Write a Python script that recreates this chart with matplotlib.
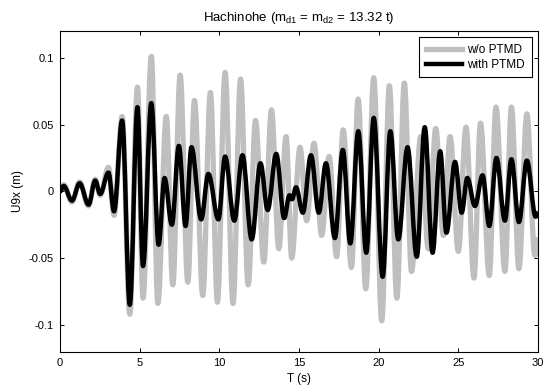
import matplotlib
matplotlib.use("Agg")
import matplotlib.pyplot as plt
from matplotlib.ticker import FuncFormatter
from matplotlib.path import Path
from matplotlib.patches import PathPatch
from matplotlib.lines import Line2D

plt.rcParams['font.family'] = ['Liberation Sans', 'DejaVu Sans']
plt.rcParams['mathtext.fontset'] = 'custom'
plt.rcParams['mathtext.rm'] = 'Liberation Sans'
plt.rcParams['mathtext.it'] = 'Liberation Sans'

# Roof displacement response, turning points of each record (time in s, displacement in m)
t_without = [0.0, 0.23, 0.75, 1.23, 1.79, 2.21, 2.52, 3.04, 3.39, 3.9, 4.38,
             4.86, 5.21, 5.73, 6.14, 6.67, 7.08, 7.54, 8.02, 8.44, 8.96,
             9.44, 9.88, 10.36, 10.86, 11.33, 11.81, 12.27, 12.79, 13.27, 13.73,
             14.19, 14.54, 15.06, 15.48, 15.94, 16.42, 16.89, 17.36, 17.77, 18.29,
             18.71, 19.19, 19.69, 20.19, 20.67, 21.14, 21.61, 22.06, 22.64, 23.11,
             23.58, 24.06, 24.48, 25.0, 25.48, 25.98, 26.39, 26.94, 27.36, 27.92,
             28.33, 28.8, 29.3, 29.8, 30.0]
u_without = [0.0, 0.005, -0.008, 0.007, -0.011, 0.009, -0.003, 0.018, -0.018, 0.056, -0.092,
             0.078, -0.080, 0.101, -0.084, 0.056, -0.070, 0.087, -0.068, 0.068, -0.078,
             0.074, -0.083, 0.089, -0.084, 0.084, -0.070, 0.053, -0.053, 0.061, -0.043,
             0.041, -0.050, 0.033, -0.022, 0.036, -0.033, 0.026, -0.049, 0.046, -0.057,
             0.069, -0.073, 0.085, -0.097, 0.079, -0.080, 0.081, -0.060, 0.041, -0.043,
             0.047, -0.033, 0.041, -0.045, 0.048, -0.065, 0.051, -0.063, 0.063, -0.060,
             0.063, -0.058, 0.058, -0.048, -0.035]

t_with = [0.0, 0.23, 0.75, 1.23, 1.79, 2.21, 2.52, 3.04, 3.39, 3.9, 4.38,
          4.86, 5.21, 5.73, 6.19, 6.56, 7.02, 7.46, 7.88, 8.25, 8.86,
          9.31, 9.94, 10.36, 10.94, 11.45, 12.03, 12.58, 13.03, 13.57, 14.07,
          14.4, 14.56, 14.81, 15.24, 15.75, 16.24, 16.69, 17.25, 17.75, 18.22,
          18.72, 19.22, 19.69, 20.25, 20.73, 21.23, 21.81, 22.39, 22.89, 23.38,
          23.86, 24.25, 24.79, 25.21, 25.56, 26.04, 26.52, 26.94, 27.39, 27.92,
          28.33, 28.8, 29.3, 29.85, 30.0]
u_with = [0.0, 0.004, -0.007, 0.006, -0.010, 0.008, -0.002, 0.014, -0.015, 0.053, -0.085,
          0.063, -0.056, 0.066, -0.040, 0.010, -0.025, 0.034, -0.026, 0.033, -0.021,
          0.013, -0.021, 0.026, -0.022, 0.027, -0.036, 0.021, -0.014, 0.028, -0.020,
          -0.003, -0.006, 0.003, -0.016, 0.027, -0.016, 0.021, -0.035, 0.031, -0.039,
          0.045, -0.046, 0.055, -0.064, 0.045, -0.036, 0.033, -0.049, 0.048, -0.046,
          0.030, -0.031, 0.022, -0.016, 0.010, -0.011, 0.012, -0.026, 0.025, -0.022,
          0.024, -0.023, 0.023, -0.019, -0.016]

x_ticks = [0, 5, 10, 15, 20, 25, 30]
y_ticks = [-0.1, -0.05, 0, 0.05, 0.1]
series_labels = ['w/o PTMD', 'with PTMD']
GREY = '#bfbfbf'


def smooth_path(t, u, k=0.36):
    """Cubic Bezier path through turning points with flat tangents at each one."""
    verts = [(t[0], u[0])]
    codes = [Path.MOVETO]
    for i in range(len(t) - 1):
        dt = t[i + 1] - t[i]
        verts += [(t[i] + k * dt, u[i]), (t[i + 1] - k * dt, u[i + 1]), (t[i + 1], u[i + 1])]
        codes += [Path.CURVE4] * 3
    return Path(verts, codes)


fig = plt.figure(figsize=(5.47, 3.88), dpi=100)
ax = fig.add_axes([0.1097, 0.0938, 0.8739, 0.8263])

ax.add_patch(PathPatch(smooth_path(t_without, u_without), fill=False,
                       edgecolor=GREY, lw=3.8, joinstyle='round', capstyle='butt'))
ax.add_patch(PathPatch(smooth_path(t_with, u_with), fill=False,
                       edgecolor='black', lw=3.2, joinstyle='round', capstyle='butt'))

ax.set_xlim(0, 30)
ax.set_ylim(-0.12, 0.12)
ax.set_xticks(x_ticks)
ax.set_yticks(y_ticks)
ax.yaxis.set_major_formatter(FuncFormatter(lambda v, p: '%g' % v))
ax.tick_params(direction='in', length=3, width=0.7, top=True, right=True,
               labelsize=8, pad=4.5)
for s in ax.spines.values():
    s.set_linewidth(0.8)

ax.set_xlabel('T (s)', fontsize=8.5, labelpad=4)
ax.set_ylabel('U9x (m)', fontsize=8.5, labelpad=3)
ax.set_title(r'Hachinohe (m$_{\mathrm{d1}}$ = m$_{\mathrm{d2}}$ = 13.32 t)',
             fontsize=9.5, pad=7.5)

handles = [Line2D([], [], color=GREY, lw=3.8), Line2D([], [], color='black', lw=3.2)]
leg = ax.legend(handles, series_labels, loc='upper right', fontsize=8.5, fancybox=False,
                framealpha=1, edgecolor='black', handlelength=3.1, borderaxespad=0.55,
                labelspacing=0.25, handletextpad=0.45, borderpad=0.55)
leg.get_frame().set_linewidth(0.8)

fig.savefig('out.png', dpi=100)
